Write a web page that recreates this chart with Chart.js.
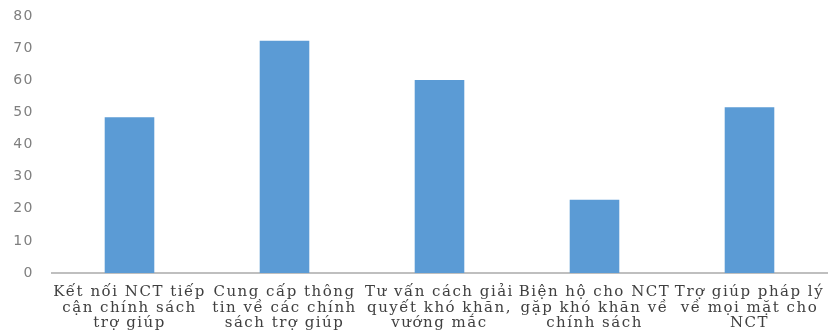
<!DOCTYPE html>
<html>
<head>
<meta charset="utf-8">
<script src="https://cdn.jsdelivr.net/npm/chart.js@4"></script>
<style>
  html, body { margin: 0; padding: 0; background: #fff; }
  #wrap { width: 836px; height: 334px; }
</style>
</head>
<body>
<div id="wrap"><canvas id="supportChart"></canvas></div>
<script>
// category labels, one array of lines per bar
var categories = [
  ["Kết nối NCT tiếp", "cận chính sách", "trợ giúp"],
  ["Cung cấp thông", "tin về các chính", "sách trợ giúp"],
  ["Tư vấn cách giải", "quyết khó khăn,", "vướng mắc"],
  ["Biện hộ cho NCT", "gặp khó khăn về", "chính sách"],
  ["Trợ giúp pháp lý", "về mọi mặt cho", "NCT"]
];
// bar heights
var values = [48.5, 72.3, 60.1, 22.8, 51.6];

// the original text looks stretched sideways, widen it a bit
var wideText = {
  id: 'wideText',
  beforeLayout: function(chart) { chart.ctx.letterSpacing = '1.5px'; },
  beforeDraw: function(chart) { chart.ctx.letterSpacing = '1.5px'; }
};

var ctx = document.getElementById("supportChart");
var supportChart = new Chart(ctx, {
  type: 'bar',
  data: {
    labels: categories,
    datasets: [
      {
        data: values,
        backgroundColor: "#5b9bd5",
        borderWidth: 0,
        barPercentage: 0.32,
        categoryPercentage: 1
      }
    ]
  },
  options: {
    responsive: true,
    maintainAspectRatio: false,
    animation: false,
    layout: { padding: { top: 16, left: 0, right: 9, bottom: 0 } },
    plugins: { legend: { display: false }, tooltip: { enabled: false } },
    scales: {
      x: {
        grid: { display: false, drawTicks: false },
        border: { display: true, color: "#bfbfbf", width: 2 },
        ticks: {
          color: "#404040",
          font: { family: "DejaVu Serif", size: 15, lineHeight: 1.05 },
          padding: 11,
          maxRotation: 0,
          autoSkip: false
        },
        afterFit: function(scale) {
          scale.height = 61;
          scale.paddingLeft = 0;
          scale.paddingRight = 0;
        }
      },
      y: {
        min: 0,
        max: 80,
        grid: { display: false, drawTicks: false },
        border: { display: false },
        ticks: {
          stepSize: 10,
          color: "#7f7f7f",
          font: { family: "DejaVu Sans", size: 14 },
          padding: 18
        },
        afterFit: function(scale) {
          scale.width = 52;
          scale.paddingTop = 0;
          scale.paddingBottom = 0;
        }
      }
    }
  },
  plugins: [wideText]
});
</script>
</body>
</html>
